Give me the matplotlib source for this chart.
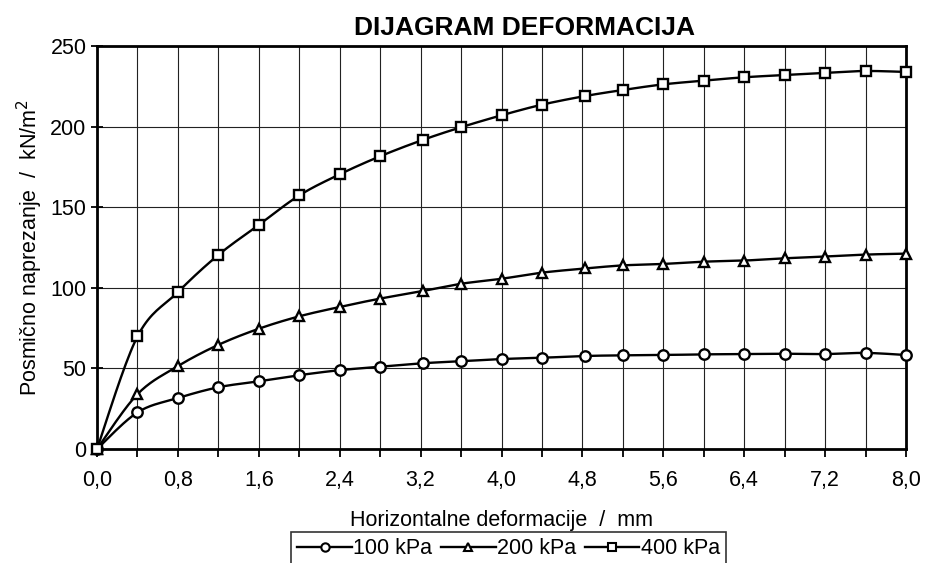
import numpy as np
import matplotlib.pyplot as plt
from matplotlib.ticker import MultipleLocator, FuncFormatter

plt.rcParams['font.family'] = ['Liberation Sans', 'DejaVu Sans']

# horizontal deformation (mm) and shear stress (kN/m2) for each normal load
deformation = [0.0, 0.4, 0.8, 1.2, 1.6, 2.0, 2.4, 2.8, 3.22, 3.6, 4.0,
               4.4, 4.83, 5.2, 5.6, 6.0, 6.4, 6.8, 7.2, 7.6, 8.0]
stress_100 = [0, 22.7, 31.6, 38.3, 42.0, 45.8, 48.9, 51.0, 53.2, 54.4, 55.8,
              56.6, 57.7, 58.1, 58.3, 58.7, 58.9, 59.1, 58.9, 59.6, 58.3]
stress_200 = [0, 34.0, 51.4, 64.6, 74.6, 82.3, 88.1, 93.3, 98.0, 102.5, 105.6,
              109.4, 112.0, 113.9, 114.8, 116.2, 116.9, 118.3, 119.4, 120.6, 121.2]
stress_400 = [0, 69.8, 97.3, 120.4, 139.0, 157.3, 170.4, 181.6, 191.7, 199.6, 207.0,
              213.6, 219.0, 222.7, 226.2, 228.5, 230.6, 232.0, 233.4, 234.5, 233.9]

series = [('100 kPa', stress_100, 'o'),
          ('200 kPa', stress_200, '^'),
          ('400 kPa', stress_400, 's')]


def smooth(x, y, sx=101.0, sy=1.61, n=20):
    # bezier smoothing through the points, done in screen-like units
    p = np.column_stack([np.asarray(x) * sx, np.asarray(y) * sy])
    p = np.vstack([p[0], p, p[-1]])
    out = []
    for i in range(1, len(p) - 2):
        p0, p1, p2, p3 = p[i - 1], p[i], p[i + 1], p[i + 2]
        c1 = p1 + (p2 - p0) / 6.0
        c2 = p2 - (p3 - p1) / 6.0
        t = np.linspace(0, 1, n)[:, None]
        seg = ((1 - t) ** 3) * p1 + 3 * ((1 - t) ** 2) * t * c1 + 3 * (1 - t) * t ** 2 * c2 + t ** 3 * p2
        out.append(seg if i == 1 else seg[1:])
    out = np.vstack(out)
    return out[:, 0] / sx, out[:, 1] / sy


fig = plt.figure(figsize=(9.31, 5.63), dpi=100)
ax = fig.add_axes([97 / 931, 1 - 449 / 563, 809 / 931, 403 / 563])

for label, values, marker in series:
    xs, ys = smooth(deformation, values)
    ax.plot(xs, ys, color='black', lw=1.7, zorder=3)
    ax.plot(deformation, values, linestyle='none', marker=marker, markersize=7.5,
            markerfacecolor='white', markeredgecolor='black', markeredgewidth=1.7,
            clip_on=False, zorder=4)
    # proxy handle for the legend
    ax.plot([], [], color='black', lw=1.7, marker=marker, markersize=6,
            markerfacecolor='white', markeredgecolor='black', markeredgewidth=1.5,
            label=label)

ax.set_xlim(0, 8)
ax.set_ylim(0, 250)
ax.xaxis.set_major_locator(MultipleLocator(0.8))
ax.xaxis.set_minor_locator(MultipleLocator(0.4))
ax.yaxis.set_major_locator(MultipleLocator(50))
ax.xaxis.set_major_formatter(FuncFormatter(lambda v, pos: f'{v:.1f}'.replace('.', ',')))
ax.grid(True, which='both', axis='x', color='#222222', lw=0.8)
ax.grid(True, which='major', axis='y', color='#222222', lw=0.8)
ax.set_axisbelow(True)

for s in ax.spines.values():
    s.set_linewidth(2)
    s.set_color('black')

ax.tick_params(axis='x', which='both', direction='out', length=6, width=1.3, labelsize=15.5, pad=9)
ax.tick_params(axis='y', which='major', direction='inout', length=9, width=1.3, labelsize=15.5, pad=3)

ax.set_xlabel('Horizontalne deformacije  /  mm', fontsize=15.5, labelpad=14)
ax.set_ylabel('Posmično naprezanje  /  kN/m$^2$', fontsize=15.5, labelpad=4)

fig.text(525 / 931, 1 - 28 / 563, 'DIJAGRAM DEFORMACIJA', fontsize=19,
         fontweight='bold', ha='center', va='center')

leg = ax.legend(loc='upper center', bbox_to_anchor=(508.5 / 931, 1 - 532 / 563),
                bbox_transform=fig.transFigure, ncol=3, frameon=True, fancybox=False,
                fontsize=15.5, handlelength=2.55, handletextpad=0.05, columnspacing=0.4,
                borderpad=0.3, borderaxespad=0)
leg.get_frame().set_edgecolor('black')
leg.get_frame().set_linewidth(1.2)

fig.savefig('out.png', dpi=100)
